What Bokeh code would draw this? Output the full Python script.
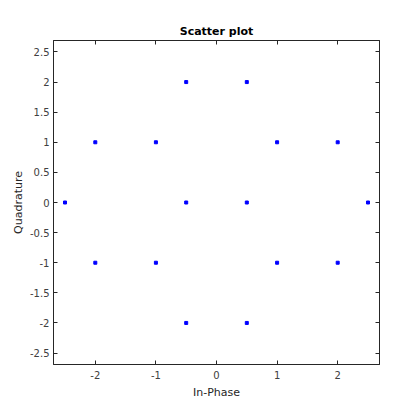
from bokeh.plotting import figure
from bokeh.models import FixedTicker, LinearAxis, Range1d, Title
from bokeh.embed import file_html
from bokeh.resources import INLINE

# Data: 16-point constellation (In-Phase, Quadrature)
in_phase = [-0.5, 0.5, -2, -1, 1, 2, -2.5, -0.5, 0.5, 2.5, -2, -1, 1, 2, -0.5, 0.5]
quadrature = [2, 2, 1, 1, 1, 1, 0, 0, 0, 0, -1, -1, -1, -1, -2, -2]

x_ticks = [-2, -1, 0, 1, 2]
y_ticks = [-2.5, -2, -1.5, -1, -0.5, 0, 0.5, 1, 1.5, 2, 2.5]
y_tick_labels = {t: ("%g" % t) for t in y_ticks}
x_tick_labels = {t: ("%g" % t) for t in x_ticks}

AX = "#262626"
FONT = "DejaVu Sans"

p = figure(width=399, height=401, output_backend="svg", toolbar_location=None,
           x_range=Range1d(-2.69, 2.69), y_range=Range1d(-2.69, 2.69),
           min_border_left=53, min_border_right=20, min_border_top=40, min_border_bottom=35)
p.title = Title(text="Scatter plot", text_font=FONT, text_font_size="11px",
                text_font_style="bold", text_color="#000000", align="center", offset=0,
                standoff=5)
p.grid.visible = False
p.outline_line_color = AX
p.outline_line_width = 1
p.background_fill_color = "white"
p.border_fill_color = "white"

def style(ax, labels):
    ax.major_tick_in = 4
    ax.major_tick_out = 0
    ax.minor_tick_line_color = None
    ax.axis_line_color = AX
    ax.major_tick_line_color = AX
    ax.major_label_text_font = FONT
    ax.major_label_text_font_size = "10px"
    ax.major_label_text_color = "#404040"
    ax.axis_label_text_font = FONT
    ax.axis_label_text_font_size = "11px"
    ax.axis_label_text_font_style = "normal"
    ax.axis_label_text_color = AX
    if not labels:
        ax.major_label_text_font_size = "0px"

xa = p.xaxis[0]
ya = p.yaxis[0]
xa.ticker = FixedTicker(ticks=x_ticks)
ya.ticker = FixedTicker(ticks=y_ticks)
xa.major_label_overrides = x_tick_labels
ya.major_label_overrides = y_tick_labels
xa.axis_label = "In-Phase"
ya.axis_label = "Quadrature"
style(xa, True)
style(ya, True)
xa.major_label_standoff = 6
ya.major_label_standoff = 4
xa.axis_label_standoff = 4
ya.axis_label_standoff = 2

top = LinearAxis(ticker=FixedTicker(ticks=x_ticks), major_label_overrides={t: "" for t in x_ticks})
right = LinearAxis(ticker=FixedTicker(ticks=y_ticks), major_label_overrides={t: "" for t in y_ticks})
style(top, False)
style(right, False)
top.major_label_standoff = 0
right.major_label_standoff = 0
p.add_layout(top, "above")
p.add_layout(right, "right")

p.scatter(in_phase, quadrature, marker="square", size=3, color="#0000ff", line_color="#0000ff")

open("out.html", "w").write(file_html(p, INLINE))
